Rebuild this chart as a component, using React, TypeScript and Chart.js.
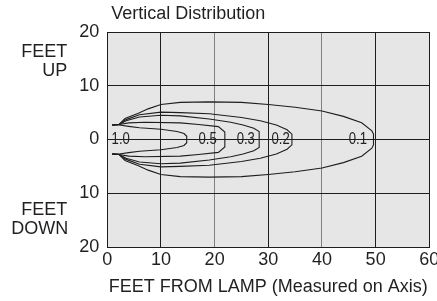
import React, { useEffect, useRef } from "react";
import { Chart, registerables } from "chart.js";

Chart.register(...registerables);

// Axis ticks
const xTicks = [0, 10, 20, 30, 40, 50, 60];
const yTicks = [20, 10, 0, -10, -20];

// Contour labels and where they sit along the axis (feet from lamp)
const contourLabels = ["1.0", "0.5", "0.3", "0.2", "0.1"];
const labelX = [2.5, 18.7, 25.8, 32.3, 46.7];

// Upper half of each isolux contour (mirrored for the lower half)
const c10X = [0.9, 2.2, 4, 6, 10, 13, 14.3, 14.8, 14.8];
const c10Y = [2.7, 2.7, 2.45, 2.2, 1.9, 1.5, 1.1, 0.6, 0];

const c05X = [0.9, 2.2, 4, 7, 13.6, 17, 20.7, 21.9, 21.9];
const c05Y = [2.7, 2.8, 3.1, 3.2, 3.1, 2.8, 2.4, 1.4, 0];

const c03X = [0.9, 2.2, 3.5, 6, 10, 13.6, 19, 23, 25.3, 27.3, 28.3, 28.3];
const c03Y = [2.7, 2.8, 3.5, 4.2, 4.5, 4.4, 3.8, 3.2, 2.7, 2.1, 1.5, 0];

const c02X = [0.9, 2.2, 3.5, 6, 10, 13.6, 19, 25, 28.5, 31.5, 33.5, 34.4, 34.4];
const c02Y = [2.7, 2.8, 3.7, 4.6, 5.1, 5.0, 4.8, 4.1, 3.5, 2.7, 1.8, 1.0, 0];

const c01X = [0.9, 2.2, 3.3, 5.8, 7.6, 10, 13.6, 19, 25, 30, 35, 40, 44, 47.4, 49.3, 49.6, 49.6];
const c01Y = [2.7, 2.8, 3.9, 4.9, 5.7, 6.5, 6.9, 7.0, 6.9, 6.5, 6.0, 5.3, 4.3, 3.1, 1.6, 1.0, 0];

const contours = [
  [c10X, c10Y],
  [c05X, c05Y],
  [c03X, c03Y],
  [c02X, c02Y],
  [c01X, c01Y],
];

const FONT = "'Liberation Sans', Arial, Helvetica, sans-serif";
const TEXT = "#231f20";

function closedContour(xs: number[], ys: number[]) {
  const upper = xs.map((x, i) => ({ x, y: ys[i] }));
  const lower = xs
    .map((x, i) => ({ x, y: -ys[i] }))
    .reverse()
    .filter((p, i) => !(i === 0 && p.y === 0));
  return upper.concat(lower);
}

const decorPlugin = {
  id: "decor",
  beforeDraw(chart: any) {
    const { ctx, chartArea } = chart;
    ctx.save();
    ctx.fillStyle = "#e6e6e7";
    ctx.fillRect(chartArea.left, chartArea.top, chartArea.right - chartArea.left, chartArea.bottom - chartArea.top);
    ctx.restore();
  },
  afterDraw(chart: any) {
    const { ctx, chartArea, scales } = chart;
    const xs = scales.x;
    const ys = scales.y;
    ctx.save();
    ctx.fillStyle = TEXT;
    // Title
    ctx.font = `18px ${FONT}`;
    ctx.textAlign = "left";
    ctx.textBaseline = "alphabetic";
    ctx.fillText("Vertical Distribution", chartArea.left + 4, 19.3);
    // Side labels
    ctx.textAlign = "right";
    const rx = chartArea.left - 40;
    const up = ys.getPixelForValue(14.7);
    ctx.fillText("FEET", rx, up - 3.8);
    ctx.fillText("UP", rx, up + 15.5);
    const dn = ys.getPixelForValue(-14.7);
    ctx.fillText("FEET", rx, dn - 3.2);
    ctx.fillText("DOWN", rx + 1, dn + 15.6);
    // Contour labels (condensed)
    ctx.font = `16px ${FONT}`;
    ctx.textAlign = "center";
    const y0 = ys.getPixelForValue(0);
    contourLabels.forEach((t, i) => {
      const px = xs.getPixelForValue(labelX[i]);
      ctx.save();
      ctx.translate(px, y0 + 4);
      ctx.scale(0.82, 1);
      ctx.fillText(t, 0, 0);
      ctx.restore();
    });
    ctx.restore();
  },
};

export default function App() {
  const ref = useRef<HTMLCanvasElement | null>(null);

  useEffect(() => {
    if (!ref.current) return;
    const datasets = contours.map(([xs, ys], i) => ({
      label: contourLabels[i],
      data: closedContour(xs, ys),
      showLine: true,
      borderColor: "#1e1e1e",
      borderWidth: 1.1,
      pointRadius: 0,
      tension: 0,
      fill: false,
    }));

    const chart = new Chart(ref.current, {
      type: "scatter",
      data: { datasets },
      plugins: [decorPlugin],
      options: {
        responsive: false,
        animation: false,
        events: [],
        layout: { padding: { left: 0, right: 7.7, top: 32, bottom: 0 } },
        plugins: {
          legend: { display: false },
          tooltip: { enabled: false },
          title: { display: false },
        },
        scales: {
          x: {
            type: "linear",
            min: 0,
            max: 60,
            afterBuildTicks: (s: any) => {
              s.ticks = xTicks.map((v) => ({ value: v }));
            },
            afterFit: (s: any) => {
              s.height = 54;
              s.paddingLeft = 0;
              s.paddingRight = 0;
            },
            grid: {
              color: (c: any) =>
                c.tick && (c.tick.value === 20 || c.tick.value === 40) ? "#808080" : "#1e1e1e",
              lineWidth: 1,
              drawTicks: false,
            },
            border: { color: "#1e1e1e", width: 1 },
            ticks: {
              color: TEXT,
              font: { family: FONT, size: 18 },
              padding: 2,
              maxRotation: 0,
              autoSkip: false,
            },
            title: {
              display: true,
              text: "FEET FROM LAMP (Measured on Axis)",
              color: TEXT,
              font: { family: FONT, size: 18 },
              padding: { top: 0, bottom: 3 },
            },
          },
          y: {
            type: "linear",
            min: -20,
            max: 20,
            afterBuildTicks: (s: any) => {
              s.ticks = yTicks.map((v) => ({ value: v }));
            },
            afterFit: (s: any) => {
              s.width = 107.3;
              s.paddingTop = 0;
              s.paddingBottom = 0;
            },
            grid: { color: "#1e1e1e", lineWidth: 1, drawTicks: false },
            border: { color: "#1e1e1e", width: 1 },
            ticks: {
              color: TEXT,
              font: { family: FONT, size: 18 },
              padding: 8,
              autoSkip: false,
              callback: (v: any) => String(Math.abs(Number(v))),
            },
          },
        },
      },
    } as any);
    return () => chart.destroy();
  }, []);

  return (
    <div style={{ position: "fixed", left: 0, top: 0, width: 437, height: 301, background: "#fff" }}>
      <canvas ref={ref} width={437} height={301} style={{ width: 437, height: 301, display: "block" }} />
    </div>
  );
}
